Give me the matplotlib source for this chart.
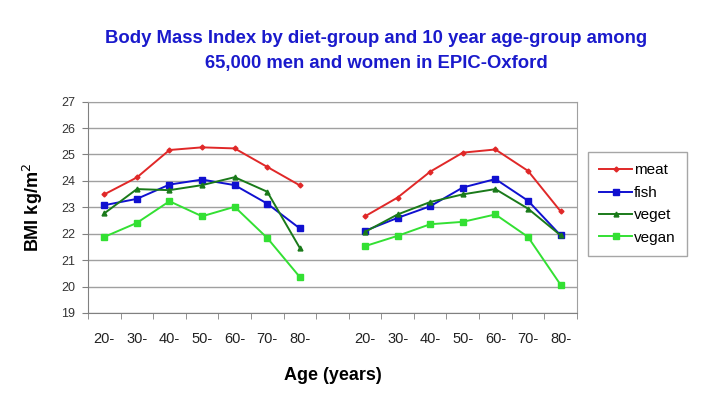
import matplotlib
matplotlib.use("Agg")
import matplotlib.pyplot as plt
import numpy as np

plt.rcParams['font.family'] = ['Liberation Sans', 'DejaVu Sans']

ages = ["20-", "30-", "40-", "50-", "60-", "70-", "80-"]

meat_a = [23.49, 24.13, 25.17, 25.27, 25.23, 24.53, 23.83]
fish_a = [23.08, 23.32, 23.86, 24.05, 23.84, 23.14, 22.20]
veget_a = [22.77, 23.69, 23.65, 23.84, 24.14, 23.59, 21.46]
vegan_a = [21.88, 22.41, 23.23, 22.66, 23.02, 21.84, 20.36]

meat_b = [22.66, 23.37, 24.35, 25.07, 25.19, 24.38, 22.85]
fish_b = [22.11, 22.60, 23.04, 23.75, 24.07, 23.25, 21.94]
veget_b = [22.07, 22.73, 23.20, 23.49, 23.69, 22.95, 21.94]
vegan_b = [21.53, 21.92, 22.36, 22.45, 22.73, 21.88, 20.07]

series = [
    ("meat", meat_a, meat_b, "#e02828", "D", 2.5),
    ("fish", fish_a, fish_b, "#1010d0", "s", 4),
    ("veget", veget_a, veget_b, "#1a7a1a", "^", 3.5),
    ("vegan", vegan_a, vegan_b, "#33e033", "s", 4),
]

fig = plt.figure(figsize=(7.2, 4.01), dpi=100)
ax = fig.add_axes([0.1222, 0.2195, 0.679, 0.527])

n = len(ages)
xa = np.arange(n) + 0.5
xb = np.arange(n) + n + 1 + 0.5

handles = []
for name, va, vb, col, mk, ms in series:
    h, = ax.plot(xa, va, color=col, marker=mk, markersize=ms, linewidth=1.4, label=name)
    ax.plot(xb, vb, color=col, marker=mk, markersize=ms, linewidth=1.4)
    handles.append(h)

ax.set_xlim(0, 2 * n + 1)
ax.set_ylim(19, 27)
ax.set_yticks(range(19, 28))
ax.yaxis.grid(True, color="#a0a0a0", linewidth=1.0)
ax.set_axisbelow(True)

ax.set_xticks(list(xa) + list(xb))
ax.set_xticklabels(ages + ages)
ax.set_xticks(np.arange(0, 2 * n + 2), minor=True)
ax.tick_params(axis="x", which="major", length=0, pad=14, labelsize=10.5, colors="#222222")
ax.tick_params(axis="x", which="minor", length=4, direction="out", color="#808080")
ax.tick_params(axis="y", length=4, direction="out", color="#808080", labelsize=9, labelcolor="#333333", pad=5)

for s in ax.spines.values():
    s.set_color("#a0a0a0")
ax.spines["left"].set_color("#808080")
ax.spines["bottom"].set_color("#808080")

ax.set_xlabel("Age (years)", fontsize=13, fontweight="bold", labelpad=15)
ax.set_ylabel("BMI kg/m$^2$", fontsize=13, fontweight="bold", labelpad=12)

fig.text(0.523, 0.872, "Body Mass Index by diet-group and 10 year age-group among\n65,000 men and women in EPIC-Oxford",
         ha="center", va="center", fontsize=13.3, fontweight="bold", color="#1a1acc", linespacing=1.6)

leg = fig.legend(handles=handles, loc="upper left", bbox_to_anchor=(0.806, 0.64),
                 frameon=True, fancybox=False, edgecolor="#909090", fontsize=11,
                 handlelength=2.15, handletextpad=0.1, borderpad=0.75, labelspacing=0.55)
leg.get_frame().set_linewidth(1.0)

fig.savefig("out.png", dpi=100)
